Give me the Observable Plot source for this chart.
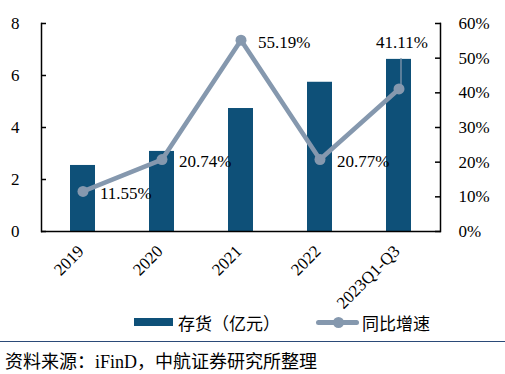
<!DOCTYPE html>
<html>
<head>
<meta charset="utf-8">
<script src="https://cdn.jsdelivr.net/npm/d3@7"></script>
<script src="https://cdn.jsdelivr.net/npm/@observablehq/plot@0.6"></script>
<style>
  body { margin: 0; background: #fff; }
  #wrap { position: relative; width: 505px; height: 374px; overflow: hidden;
          font-family: "Liberation Serif", "Noto Sans CJK SC", serif; color: #000; }
  #chart { position: absolute; left: 0; top: 0; }
  .legend { position: absolute; top: 311px; left: 0; width: 505px; height: 22px; font-size: 17px; }
  .item { position: absolute; top: 0; display: flex; align-items: center; height: 22px; }
  .sw-bar { width: 39px; height: 8px; background: #0E5078; margin-right: 5px; }
  .sw-line { position: relative; width: 43px; height: 22px; margin-right: 3px; }
  .sw-line::before { content: ""; position: absolute; left: 0; right: 0; top: 9px; height: 5px; background: #8598AE; border-radius: 3px; }
  .sw-line::after { content: ""; position: absolute; left: 17px; top: 6px; width: 11px; height: 11px; border-radius: 50%; background: #8598AE; }
  .sep { position: absolute; top: 341px; left: 0; width: 505px; height: 1px; background: #2B4A78; }
  .caption { position: absolute; top: 347px; left: 5px; font-size: 18px; white-space: nowrap; }
  .cjk { font-family: "Noto Sans CJK SC", sans-serif; }
</style>
</head>
<body>
<div id="wrap">
  <div id="chart"></div>
  <div class="legend">
    <div class="item" style="left:134px"><div class="sw-bar"></div><span class="cjk">存货（亿元）</span></div>
    <div class="item" style="left:316px"><div class="sw-line"></div><span class="cjk">同比增速</span></div>
  </div>
  <div class="sep"></div>
  <div class="caption"><span class="cjk">资料来源：</span>iFinD<span class="cjk">，中航证券研究所整理</span></div>
</div>
<script>
const categories = ["2019", "2020", "2021", "2022", "2023Q1-Q3"];
const inventory = [2.54, 3.08, 4.73, 5.74, 6.62];          // 存货（亿元）
const growth = [11.55, 20.74, 55.19, 20.77, 41.11];         // 同比增速 (%)
const leftTicks = [0, 2, 4, 6, 8];
const rightTicks = [0, 10, 20, 30, 40, 50, 60];

const leftMax = 8, rightMax = 60;
const toLeft = p => p * leftMax / rightMax;

const rows = categories.map((c, i) => ({cat: c, inv: inventory[i], g: growth[i], i}));
const last = rows[rows.length - 1];

const barColor = "#0E5078";
const lineColor = "#8598AE";
const font = "Liberation Serif, Noto Sans CJK SC, serif";

const chart = Plot.plot({
  width: 505,
  height: 320,
  marginTop: 23,
  marginBottom: 89,
  marginLeft: 41,
  marginRight: 65,
  style: {fontFamily: font, fontSize: "17px", color: "#000", background: "transparent", overflow: "visible"},
  x: {domain: categories, paddingInner: 0.6875, paddingOuter: 0.34375, axis: null},
  y: {domain: [0, leftMax], axis: null},
  marks: [
    Plot.barY(rows, {x: "cat", y: "inv", fill: barColor}),
    // left axis
    Plot.axisY({anchor: "left", ticks: leftTicks, tickSize: 0, tickPadding: 22, label: null, fontSize: 17}),
    Plot.axisY({anchor: "left", ticks: leftTicks, tickSize: -5, tickFormat: () => "", label: null, strokeWidth: 1.5}),
    Plot.frame({anchor: "left", stroke: "#000", strokeWidth: 1.5}),
    // right axis
    Plot.axisY({anchor: "right", ticks: rightTicks.map(toLeft), tickSize: 0, tickPadding: 18,
                tickFormat: d => Math.round(d * rightMax / leftMax) + "%", textAnchor: "start", label: null, fontSize: 17}),
    Plot.axisY({anchor: "right", ticks: rightTicks.map(toLeft), tickSize: -6, tickFormat: () => "", label: null, strokeWidth: 1.5}),
    Plot.frame({anchor: "right", stroke: "#000", strokeWidth: 1.5}),
    // bottom axis line
    Plot.ruleY([0], {stroke: "#000", strokeWidth: 1.5}),
    // x labels
    Plot.text(categories, {x: d => d, frameAnchor: "bottom", dy: 17, dx: -2, rotate: -45, textAnchor: "end",
                           lineAnchor: "middle", fontSize: 17, fill: "#000"}),
    // leader for last label
    Plot.ruleX([last], {x: "cat", y1: d => toLeft(d.g), y2: d => toLeft(d.g + 8.8), dx: 2, stroke: lineColor, strokeWidth: 1.3}),
    // growth line
    Plot.line(rows, {x: "cat", y: d => toLeft(d.g), stroke: lineColor, strokeWidth: 4.5, strokeLinejoin: "miter", strokeMiterlimit: 10}),
    Plot.dot(rows, {x: "cat", y: d => toLeft(d.g), r: 5.5, fill: lineColor}),
    // value labels
    Plot.text(rows.filter(d => d !== last), {x: "cat", y: d => toLeft(d.g), text: d => d.g.toFixed(2) + "%",
                           dx: 17, dy: 2, textAnchor: "start", fontSize: 17, fill: "#000"}),
    Plot.text([last], {x: "cat", y: d => toLeft(d.g), text: d => d.g.toFixed(2) + "%",
                           dx: 3, dy: -46, textAnchor: "middle", fontSize: 17, fill: "#000"})
  ]
});
document.getElementById("chart").appendChild(chart);
</script>
</body>
</html>
